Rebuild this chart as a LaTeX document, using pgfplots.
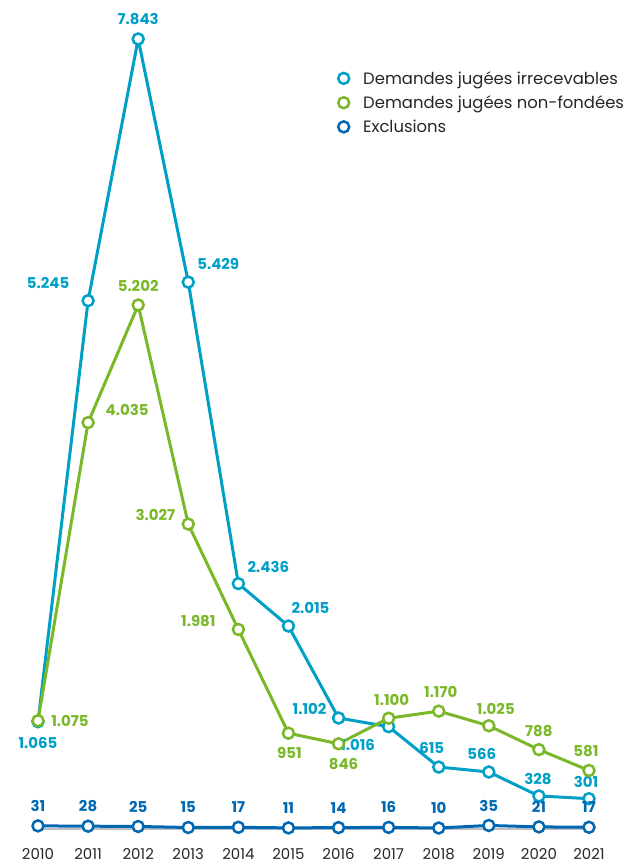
\documentclass[border=0pt]{standalone}
\usepackage{fontspec}
\setmainfont{Poppins}
\usepackage{pgfplots}
\usepackage{pgfplotstable}
\pgfplotsset{compat=1.18}
\definecolor{cIrr}{RGB}{0,160,198}
\definecolor{cNon}{RGB}{122,184,41}
\definecolor{cExc}{RGB}{0,104,178}
\definecolor{cAx}{RGB}{190,190,195}

\pgfplotstableread{
x y lbl dx dy
2010 1065 1.065 0 -21
2011 5245 5.245 -40 18
2012 7843 7.843 0 20
2013 5429 5.429 30 18
2014 2436 2.436 30 17
2015 2015 2.015 22 18
2016 1102 1.102 -29 9
2017 1016 1.016 -31 -18
2018 615 615 -7 19
2019 566 566 -7 18
2020 328 328 -1 17
2021 301 301 -3 17
}\irr

\pgfplotstableread{
x y lbl dx dy
2010 1075 1.075 32 0
2011 4035 4.035 39 13
2012 5202 5.202 0 19
2013 3027 3.027 -33 9
2014 1981 1.981 -40 8
2015 951 951 1 -20
2016 846 846 5 -20
2017 1100 1.100 3 18
2018 1170 1.170 2 19
2019 1025 1.025 7 17
2020 788 788 0 19
2021 581 581 -3 19
}\non

\pgfplotstableread{
x y lbl dx dy
2010 31 31 0 20
2011 28 28 0 20
2012 25 25 0 20
2013 15 15 0 20
2014 17 17 0 20
2015 11 11 0 20
2016 14 14 0 20
2017 16 16 0 20
2018 10 10 0 20
2019 35 35 0 20
2020 21 21 0 20
2021 17 17 0 20
}\exc

\begin{document}
\begin{tikzpicture}
\begin{axis}[
  scale only axis, width=551bp, height=790bp,
  xmin=2010, xmax=2021, ymin=0, ymax=7843,
  clip=false,
  axis y line=none,
  axis x line*=bottom,
  x axis line style={cAx, line width=1.5bp, -},
  xtick={2010,2011,...,2021},
  major tick length=0pt,
  /pgf/number format/assume math mode=true,
  xticklabel style={/pgf/number format/1000 sep={}, font=\fontsize{15}{15}\selectfont, text=black!85, yshift=-16bp},
  every axis plot/.append style={line width=3bp, mark=*, mark size=5.5bp, mark options={fill=white, line width=2.5bp}},
  legend style={at={(rel axis cs:0.5445,0.962)}, anchor=north west, draw=none, fill=none,
    font=\fontsize{16.5}{16.5}\selectfont, text=black!85, row sep=6bp, inner sep=0pt,
    /tikz/every odd column/.append style={column sep=12bp}},
  legend cell align=left,
  legend image code/.code={\draw[#1, mark size=5.5bp] plot[only marks] coordinates {(0.15cm,0cm)};},
  lbls/.style={point meta=explicit symbolic,
    visualization depends on={\thisrow{dx} \as \ddx},
    visualization depends on={\thisrow{dy} \as \ddy},
    nodes near coords,
    nodes near coords style={anchor=center, xshift=\ddx bp, yshift=\ddy bp, font=\bfseries\fontsize{15}{15}\selectfont, text=#1}},
]
\addplot[color=cIrr, lbls=cIrr] table[x=x, y=y, meta=lbl]{\irr};
\addlegendentry{Demandes jugées irrecevables}
\addplot[color=cNon, lbls=cNon] table[x=x, y=y, meta=lbl]{\non};
\addlegendentry{Demandes jugées non-fondées}
\addplot[color=cExc, lbls=cExc] table[x=x, y=y, meta=lbl]{\exc};
\addlegendentry{Exclusions}
\path (rel axis cs:0,0) ++(-38bp,-35bp) coordinate (bl);
\path (rel axis cs:1,1) ++(53bp,39bp) coordinate (tr);
\end{axis}
\path (bl) rectangle (tr);
\end{tikzpicture}
\end{document}
